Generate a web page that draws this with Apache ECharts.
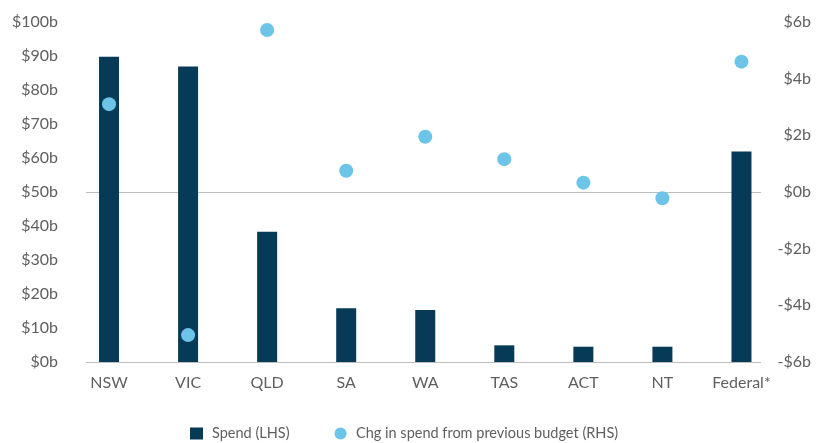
<!DOCTYPE html>
<html>
<head>
<meta charset="utf-8">
<script src="https://cdn.jsdelivr.net/npm/echarts@6/dist/echarts.min.js"></script>
<style>
  html, body { margin: 0; padding: 0; background: #fff; }
  #chart { width: 823px; height: 443px; }
</style>
</head>
<body>
<div id="chart"></div>
<script>
// Spending by jurisdiction ($b) and change from the previous budget ($b)
const categories = ['NSW', 'VIC', 'QLD', 'SA', 'WA', 'TAS', 'ACT', 'NT', 'Federal*'];
const spend = [89.8, 86.9, 38.3, 15.8, 15.3, 4.9, 4.5, 4.5, 61.9];
const change = [3.1, -5.05, 5.72, 0.75, 1.95, 1.16, 0.33, -0.22, 4.6];
const leftTicks = { min: 0, max: 100, interval: 10 };
const rightTicks = { min: -6, max: 6, interval: 2 };

const FONT = 'Lato';
const TEXT = '#5f5f5f';
const NAVY = '#073a57';
const SKY = '#6cc4e9';

const chart = echarts.init(document.getElementById('chart'), null, { renderer: 'canvas' });

chart.setOption({
  animation: false,
  backgroundColor: '#ffffff',
  textStyle: { fontFamily: FONT },
  grid: [
    // reference lines ($50b / $0b change, and the base line)
    { left: 86, right: 62, top: 192, bottom: 81 },
    // bars and dots
    { left: 69.5, right: 42, top: 22, bottom: 81 }
  ],
  legend: {
    left: 190,
    top: 426,
    padding: 0,
    itemWidth: 13,
    itemHeight: 12,
    itemGap: 45,
    textStyle: { fontFamily: FONT, fontSize: 14.5, color: TEXT, padding: [0, 0, 0, 4] },
    data: [
      { name: 'Spend (LHS)', icon: 'rect' },
      { name: 'Chg in spend from previous budget (RHS)', icon: 'circle' }
    ]
  },
  xAxis: [
    { type: 'value', gridIndex: 0, show: false, min: 0, max: 1 },
    {
      type: 'category', gridIndex: 1, data: categories,
      axisLine: { show: false }, axisTick: { show: false },
      axisLabel: { color: TEXT, fontSize: 16, fontFamily: FONT, margin: 13 }
    }
  ],
  yAxis: [
    {
      type: 'value', gridIndex: 0, min: 0, max: 50, interval: 50,
      axisLine: { show: false }, axisTick: { show: false }, axisLabel: { show: false },
      splitLine: { show: true, lineStyle: { color: '#bdbdbd', width: 1.2 } }
    },
    {
      type: 'value', gridIndex: 1, position: 'left',
      min: leftTicks.min, max: leftTicks.max, interval: leftTicks.interval,
      axisLine: { show: false }, axisTick: { show: false }, splitLine: { show: false },
      axisLabel: { color: TEXT, fontSize: 16, fontFamily: FONT, margin: 11.5,
        formatter: v => '$' + v + 'b' }
    },
    {
      type: 'value', gridIndex: 1, position: 'right',
      min: rightTicks.min, max: rightTicks.max, interval: rightTicks.interval,
      axisLine: { show: false }, axisTick: { show: false }, splitLine: { show: false },
      axisLabel: { color: TEXT, fontSize: 16, fontFamily: FONT, margin: 30, align: 'right',
        formatter: v => (v < 0 ? '-$' + Math.abs(v) : '$' + v) + 'b' }
    }
  ],
  series: [
    {
      name: 'Spend (LHS)', type: 'bar', xAxisIndex: 1, yAxisIndex: 1,
      data: spend, barWidth: 20, itemStyle: { color: NAVY }
    },
    {
      name: 'Chg in spend from previous budget (RHS)', type: 'scatter', xAxisIndex: 1, yAxisIndex: 2,
      data: change, symbol: 'circle', symbolSize: 14, itemStyle: { color: SKY, opacity: 1 }
    }
  ]
});
</script>
</body>
</html>
